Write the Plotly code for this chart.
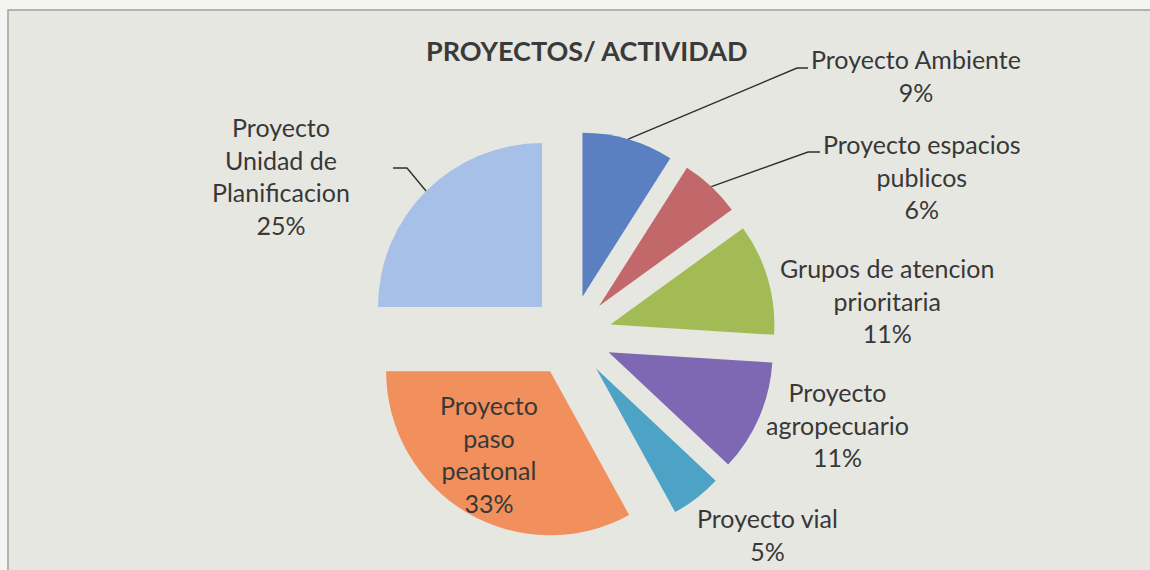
import math
import plotly.graph_objects as go

# ---- data ----
labels = ["Proyecto Ambiente", "Proyecto espacios publicos", "Grupos de atencion prioritaria",
          "Proyecto agropecuario", "Proyecto vial", "Proyecto paso peatonal",
          "Proyecto Unidad de Planificacion"]
label_lines = ["Proyecto Ambiente", "Proyecto espacios<br>publicos", "Grupos de atencion<br>prioritaria",
               "Proyecto<br>agropecuario", "Proyecto vial", "Proyecto<br>paso<br>peatonal",
               "Proyecto<br>Unidad de<br>Planificacion"]
values = [9, 6, 11, 11, 5, 33, 25]
colors = ["#5B80C1", "#C2686A", "#A2BB55", "#7E68B3", "#4CA3C5", "#F1905C", "#A6C0E8"]
title_text = "PROYECTOS/ ACTIVIDAD"

# ---- layout constants (pixels) ----
W, H = 1150, 570
CX, CY = 571, 336
PULL = 0.25
R = 164
HALF = R * (1 + PULL)
FONT = "Lato"
TXT = "#383838"

# label block centres (pixels) and leader lines (elbow, end)
label_pos = [(916, 76), (922, 176), (887, 300), (837, 424), (767, 534), (489, 454), (281, 176)]
leaders = {0: [(797, 68), (808, 68)], 1: [(808, 152), (820, 152)], 6: [(407, 168), (393, 168)]}


def px(x):
    return x / W


def py(y):
    return 1 - y / H


total = sum(values)
pcts = [round(v / total * 100) for v in values]

fig = go.Figure(go.Pie(
    labels=labels, values=values, textinfo="none",
    marker=dict(colors=colors, line=dict(width=0)),
    pull=[PULL] * len(values), sort=False, direction="clockwise", rotation=0,
    domain=dict(x=[px(CX - HALF), px(CX + HALF)], y=[py(CY + HALF), py(CY - HALF)]),
    showlegend=False, hoverinfo="skip",
))

annotations = []
for i, pos in enumerate(label_pos):
    annotations.append(dict(
        x=px(pos[0]), y=py(pos[1]), xref="paper", yref="paper",
        text=f"{label_lines[i]}<br>{pcts[i]}%", showarrow=False,
        xanchor="center", yanchor="middle", align="center",
        font=dict(family=FONT, size=25, color=TXT),
    ))
annotations.append(dict(
    x=px(587), y=py(50), xref="paper", yref="paper", text=f"<b>{title_text}</b>",
    showarrow=False, xanchor="center", yanchor="middle",
    font=dict(family=FONT, size=27, color="#3a3a3a"),
))

shapes = [dict(type="rect", xref="paper", yref="paper", x0=px(8), y0=-0.1, x1=1.1, y1=py(10),
               line=dict(color="#a0a0a0", width=1.5), fillcolor="#E7E7E2", layer="below")]

cum = 0
for i, v in enumerate(values):
    th = 2 * math.pi * (cum + v / 2) / total
    cum += v
    if i not in leaders:
        continue
    sx = CX + HALF * math.sin(th)
    sy = CY - HALF * math.cos(th)
    pts = [(sx, sy)] + leaders[i]
    path = "M " + " L ".join(f"{px(a):.5f},{py(b):.5f}" for a, b in pts)
    shapes.append(dict(type="path", xref="paper", yref="paper", path=path,
                       line=dict(color="#2f2f2f", width=1.4)))

fig.update_layout(
    width=W, height=H, margin=dict(l=0, r=0, t=0, b=0),
    paper_bgcolor="#F4F4F2", plot_bgcolor="#F4F4F2",
    annotations=annotations, shapes=shapes,
)

fig.write_html("out.html", config={"displayModeBar": False},
               post_script="document.body.style.margin='0';document.body.style.overflow='hidden';")
